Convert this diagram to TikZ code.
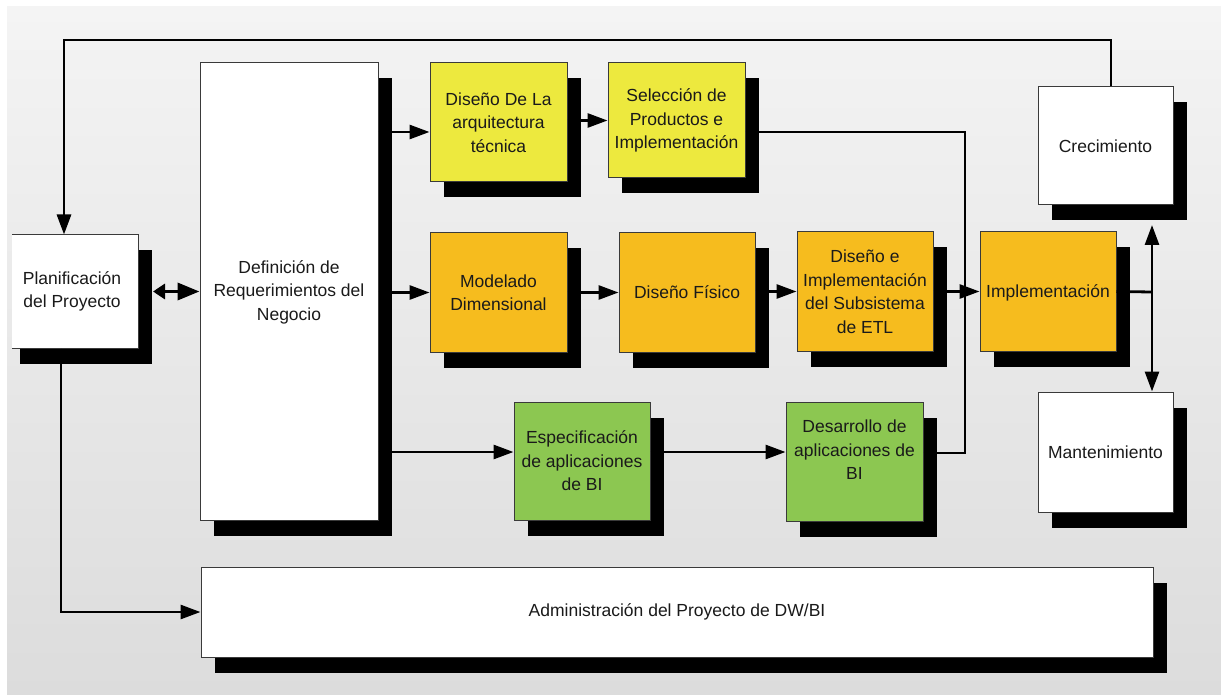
\documentclass[tikz,border=0pt]{standalone}
\usepackage{fontspec}
\setmainfont{Liberation Sans}
\usetikzlibrary{shadows,arrows.meta}
\definecolor{bgtop}{HTML}{F4F4F4}
\definecolor{bgbot}{HTML}{DCDCDC}
\definecolor{yel}{HTML}{EDE93E}
\definecolor{ora}{HTML}{F6BC1E}
\definecolor{grn}{HTML}{8CC751}
\definecolor{edge}{HTML}{3A3A3A}
\definecolor{ink}{HTML}{1A1A1A}
\begin{document}
\begin{tikzpicture}[x=1pt,y=-1pt,
  txt/.style={align=center, inner sep=0pt, text=ink, font=\fontsize{17.5pt}{23.5pt}\selectfont},
  box/.style={txt, draw=edge, line width=1pt, rectangle,
    general shadow={fill=black, shadow xshift=14pt, shadow yshift=-15.5pt}},
  conn/.style={line width=2.8pt, draw=black},
  arr/.style={conn, -{Triangle[length=20pt,width=14pt]}},
]
\useasboundingbox (0,0) rectangle (1221,695);
\fill[white] (0,0) rectangle (1221,695);
\begin{scope}
\clip (7,7) rectangle (1221,695);
\shade[top color=bgtop, bottom color=bgbot] (7,7) rectangle (1221,695);

% boxes
\begin{scope}
\clip (12,7) rectangle (1221,695);
\node[box, fill=white, minimum width=132pt, minimum height=113pt] (plan) at (72,291.5) {};
\end{scope}
\node[txt] (plantxt) at (72,291.5) {Planificación\\del Proyecto};
\node[box, fill=white, minimum width=178pt, minimum height=457pt] (def) at (289,291.5) {};
\node[txt] (deftxt) at (289,292) {Definición de\\Requerimientos del\\Negocio};

\node[box, fill=yel, minimum width=137pt, minimum height=119pt] (dis) at (498.5,122.5) {Diseño De La\\arquitectura\\técnica};
\node[box, fill=yel, minimum width=137pt, minimum height=115pt] (sel) at (676.5,120.5) {Selección de\\Productos e\\Implementación};

\node[box, fill=ora, minimum width=137pt, minimum height=119pt] (mod) at (498.5,292.5) {Modelado\\Dimensional};
\node[box, fill=ora, minimum width=136pt, minimum height=119pt] (fis) at (687,292.5) {Diseño Físico};
\node[box, fill=ora, minimum width=136pt, minimum height=119pt] (etl) at (865,291.5) {Diseño e\\Implementación\\del Subsistema\\de ETL};
\node[box, fill=ora, minimum width=136pt, minimum height=119pt] (impl) at (1048,291.5) {};
\node[txt] (impltxt) at (1048,292.5) {Implementación};

\node[box, fill=white, minimum width=135pt, minimum height=118pt] (crec) at (1105.5,146) {Crecimiento};
\node[box, fill=white, minimum width=135pt, minimum height=120pt] (mant) at (1105.5,452) {Mantenimiento};

\node[box, fill=grn, minimum width=136pt, minimum height=118pt] (esp) at (582,461) {Especificación\\de aplicaciones\\de BI};
\node[box, fill=grn, minimum width=137pt, minimum height=119pt] (des) at (854.5,461.5) {};
\node[txt] (destxt) at (854.5,450) {Desarrollo de\\aplicaciones de\\BI};

\node[box, fill=white, minimum width=952pt, minimum height=90pt] (admin) at (677,612) {Administración del Proyecto de DW/BI};

% connectors
\coordinate (tl) at (64,40);
\coordinate (j) at (965,292);
\coordinate (k) at (1152,292);

\draw[arr] ([xshift=5.5pt]crec.north) |- (tl) -- (tl |- plan.north);
\draw[line width=3.5pt, {Triangle[length=12pt,width=15pt]}-{Triangle[length=22pt,width=17pt]}]
  ([xshift=14.5pt]plan.east) -- (def.west |- plan.east);
\draw[arr] ([xshift=-11pt]plan.south) |- (admin.west);

\draw[arr] (def.east |- 0,132) -- (dis.west |- 0,132);
\draw[arr] (dis.east |- sel.west) -- (sel.west);
\draw[conn] ([yshift=-11.5pt]sel.east) -| (j);

\draw[arr] (def.east |- mod.west) -- (mod.west);
\draw[arr] (mod.east) -- (fis.west);
\draw[arr] (fis.east |- etl.west) -- (etl.west);
\draw[arr] (etl.east) -- (impl.west);

\draw[arr] (def.east |- 0,452) -- (esp.west |- 0,452);
\draw[arr] (esp.east |- 0,452) -- (des.west |- 0,452);
\draw[conn] (des.east |- 0,453) -| (j);

\draw[conn] (impl.east) -- (k);
\draw[arr] (k) -- (k |- 0,225);
\draw[arr] (k) -- (k |- mant.north);
\end{scope}
\end{tikzpicture}
\end{document}
